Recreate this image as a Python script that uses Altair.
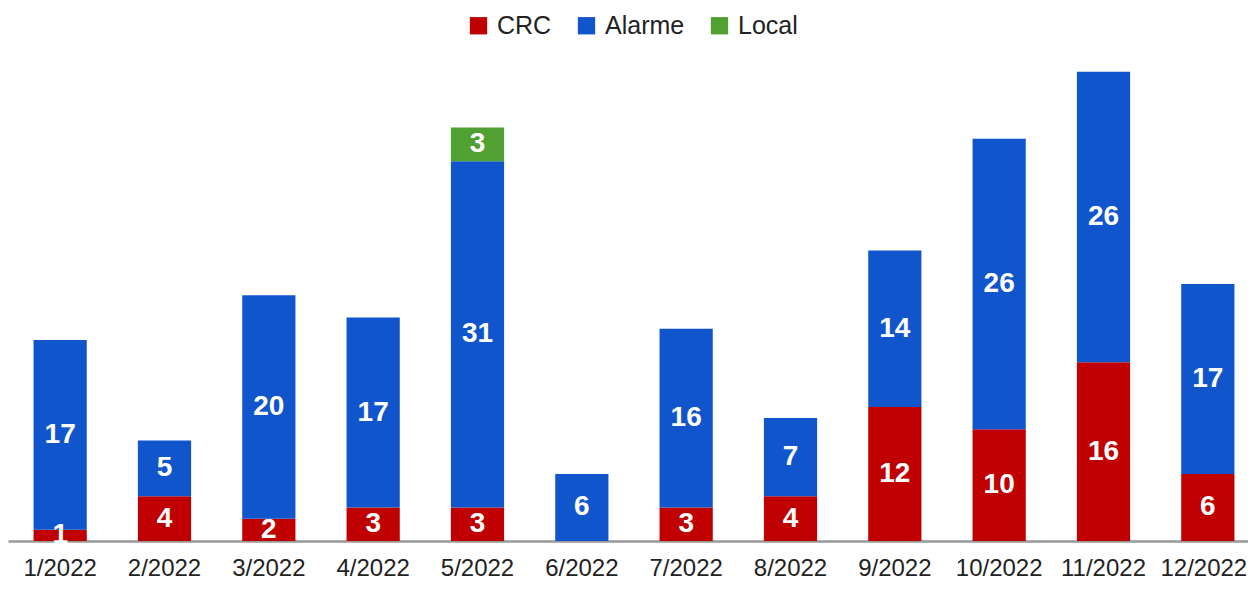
import altair as alt
import pandas as pd

months = ["1/2022", "2/2022", "3/2022", "4/2022", "5/2022", "6/2022",
          "7/2022", "8/2022", "9/2022", "10/2022", "11/2022", "12/2022"]
crc = [1, 4, 2, 3, 3, 0, 3, 4, 12, 10, 16, 6]
alarme = [17, 5, 20, 17, 31, 6, 16, 7, 14, 26, 26, 17]
local = [0, 0, 0, 0, 3, 0, 0, 0, 0, 0, 0, 0]
series = ["CRC", "Alarme", "Local"]
colors = ["#C00000", "#1155CC", "#50A032"]

rows = []
for i, m in enumerate(months):
    for k, (name, vals) in enumerate(zip(series, [crc, alarme, local])):
        rows.append({"month": m, "series": name, "value": vals[i], "ord": k})
df = pd.DataFrame(rows)

x_scale = alt.Scale(paddingInner=0.49, paddingOuter=0.245, range=[0, 1252])
x_enc = alt.X("month:N", sort=months, title=None, scale=x_scale,
              axis=alt.Axis(labelAngle=0, labelFontSize=24, labelColor="#222222",
                            labelFont="Liberation Sans", ticks=False, labelPadding=15,
                            labelOffset={"condition": {"test": "datum.value == '12/2022'",
                                                       "value": -4}, "value": 0},
                            domainColor="#999999", domainWidth=2.5, grid=False))
y_scale = alt.Scale(domain=[0, 43.5], nice=False, zero=True)

base = alt.Chart(df)

bars = base.mark_bar().encode(
    x=x_enc,
    y=alt.Y("value:Q", stack="zero", scale=y_scale, axis=None, title=None),
    color=alt.Color("series:N", sort=series,
                    scale=alt.Scale(domain=series, range=colors),
                    legend=alt.Legend(title=None, orient="none", direction="horizontal",
                                      legendX=458, legendY=-42, labelFontSize=25,
                                      labelFont="Liberation Sans", labelColor="#222222",
                                      symbolType="square", symbolSize=300,
                                      symbolStrokeWidth=0, labelOffset=6,
                                      columnPadding=22, padding=0)),
    order=alt.Order("ord:Q", sort="ascending"),
)

labels = base.transform_filter("datum.value > 0").transform_stack(
    stack="value", as_=["y0", "y1"], groupby=["month"],
    sort=[alt.SortField("ord", order="ascending")]
).transform_calculate(mid="(datum.y0 + datum.y1) / 2").mark_text(
    color="white", fontWeight="bold", fontSize=28, font="Liberation Sans", baseline="middle"
).encode(
    x=alt.X("month:N", sort=months, scale=x_scale),
    y=alt.Y("mid:Q", scale=y_scale),
    text="value:Q",
)

chart = alt.layer(bars, labels).properties(
    width=1240, height=486,
    autosize=alt.AutoSizeParams(type="none"),
    padding={"left": 0, "top": 47, "right": 0, "bottom": 41},
).configure_view(stroke=None)

chart.save("out.html", embed_options={"renderer": "svg", "actions": False})
